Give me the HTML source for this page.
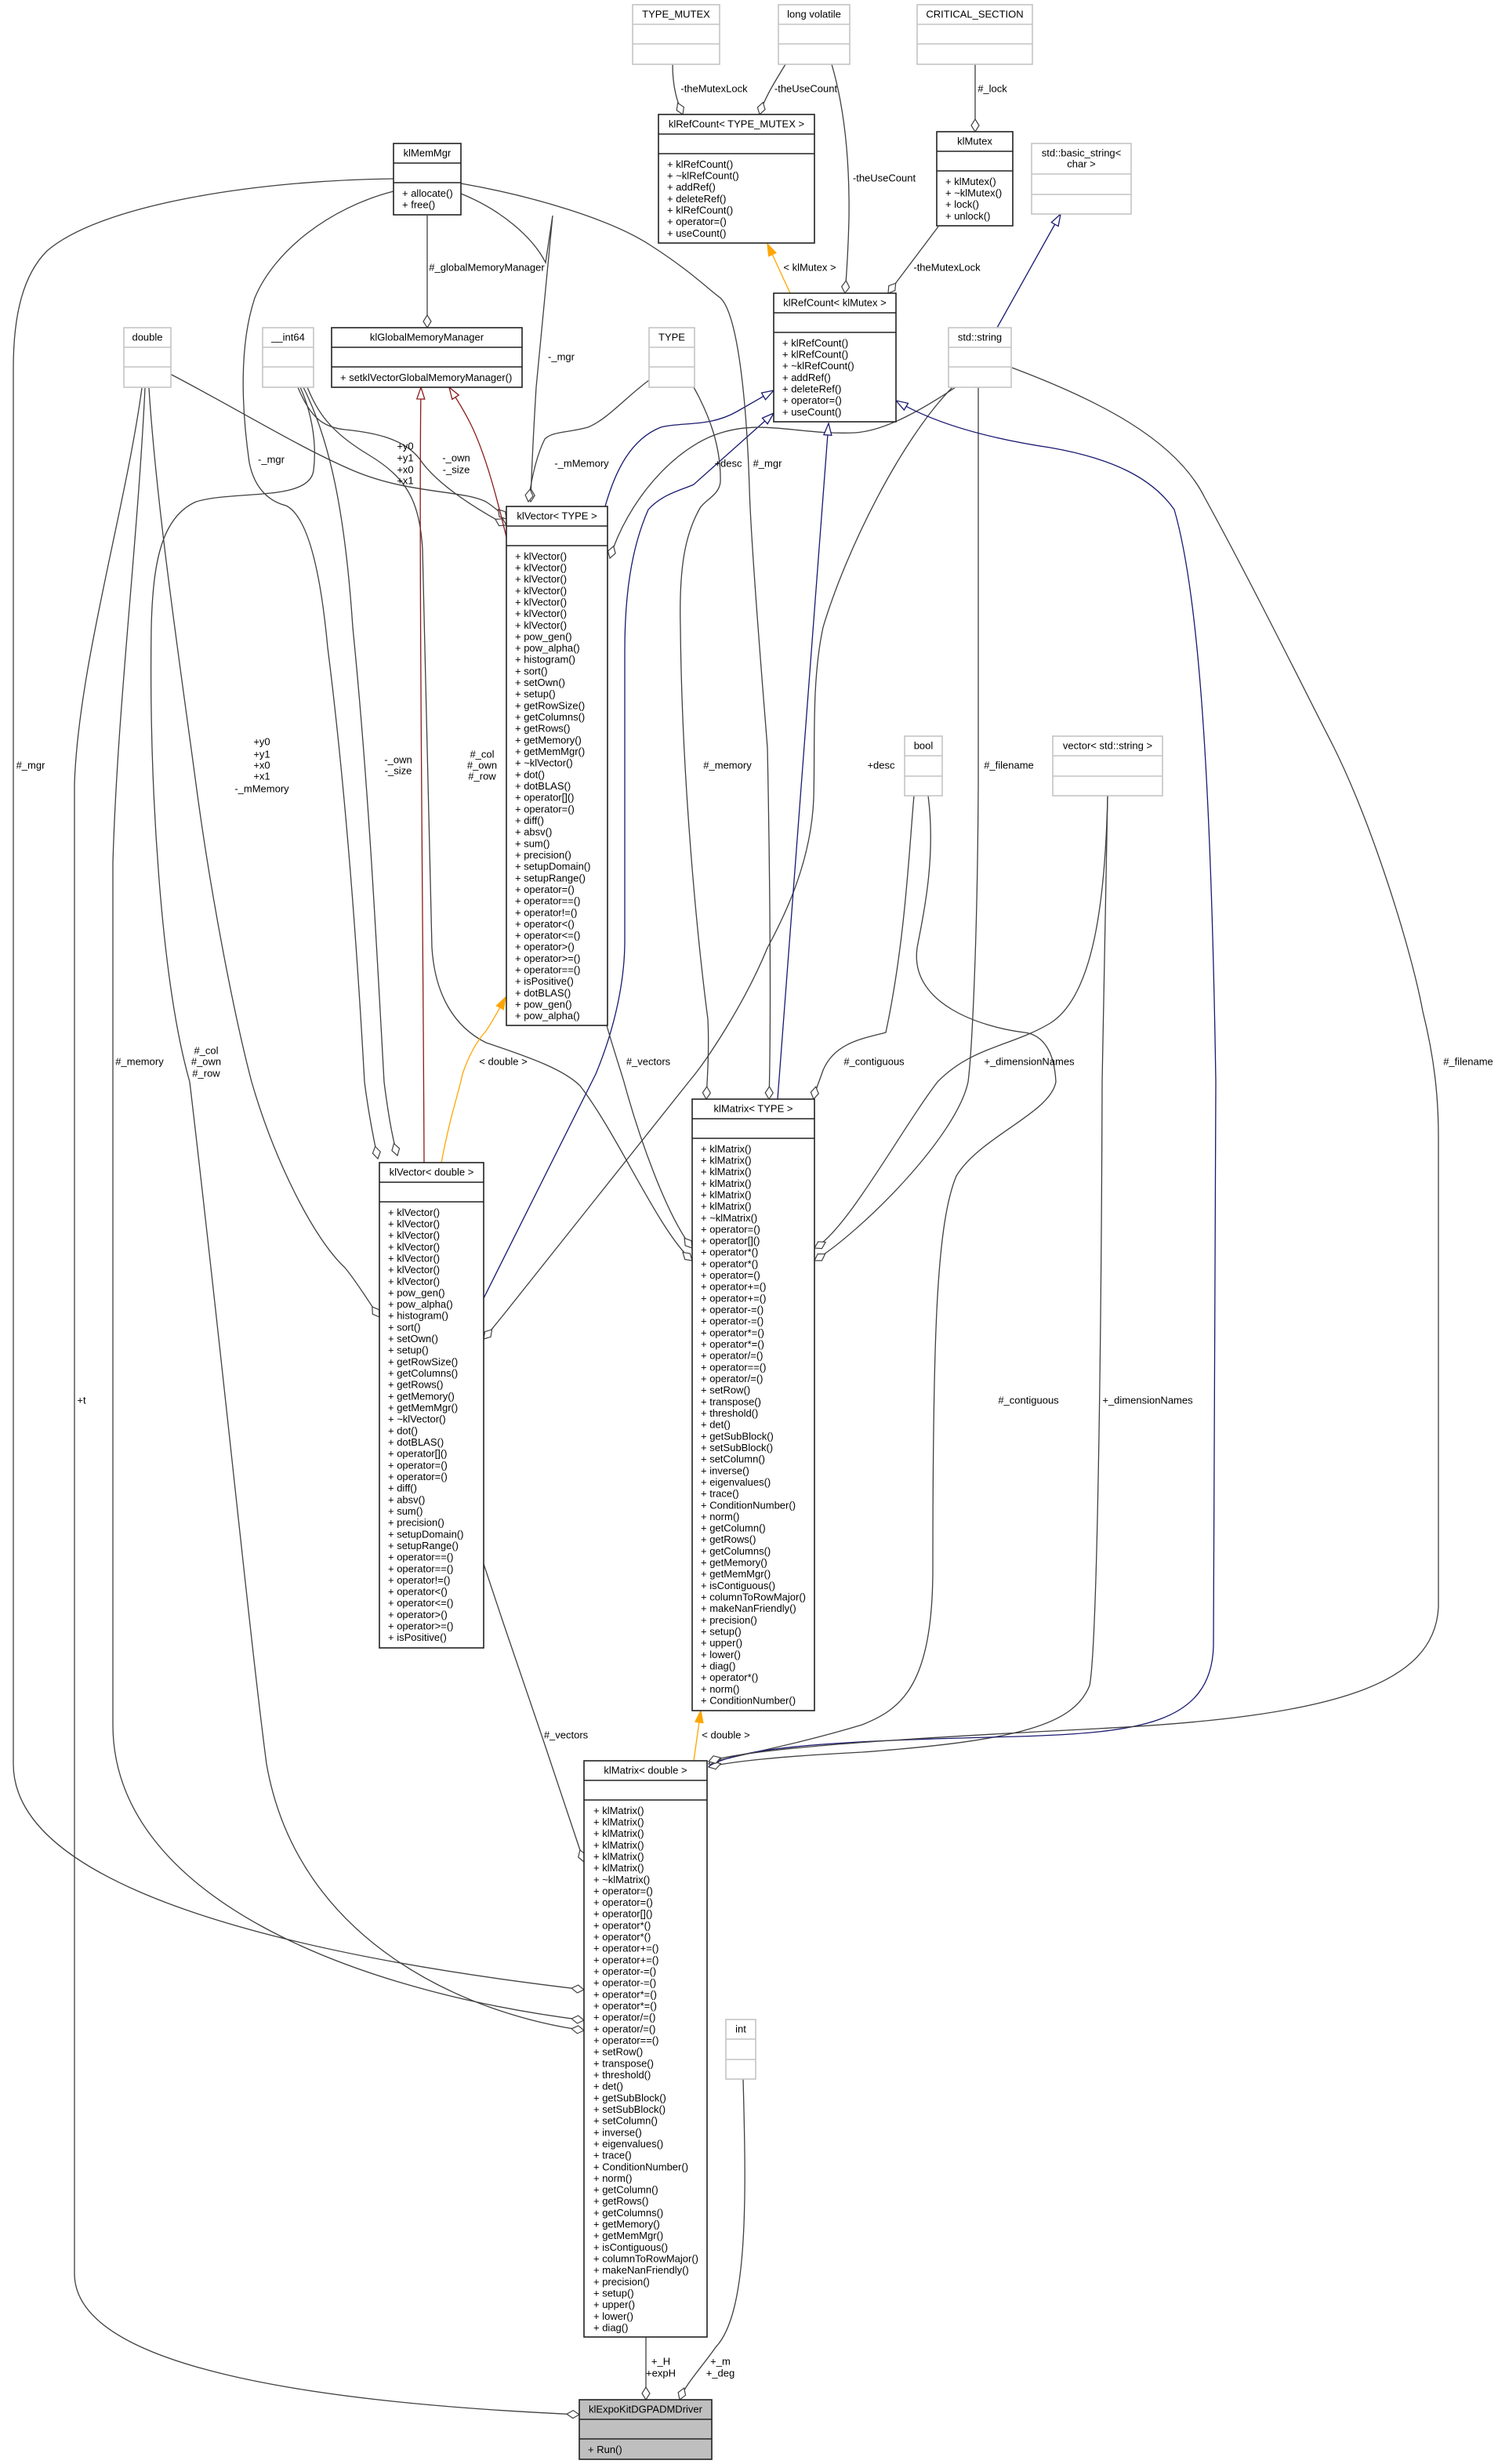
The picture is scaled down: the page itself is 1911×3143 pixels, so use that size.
<!DOCTYPE html>
<html><head><meta charset="utf-8"><title>klExpoKitDGPADMDriver</title>
<style>
html,body{margin:0;padding:0;background:#fff}
svg{display:block}
text{font-family:"Liberation Sans",Arial,sans-serif;font-size:13px;fill:#000}
.c{text-anchor:middle}
.b{fill:#fff;stroke:#222;stroke-width:1.6}
.bl{fill:none;stroke:#222;stroke-width:1.6}
.g{fill:#fff;stroke:#c4c4c4;stroke-width:1.6}
.gl{fill:none;stroke:#c4c4c4;stroke-width:1.6}
.e{fill:none;stroke:#404040;stroke-width:1.3}
.n{fill:none;stroke:#191970;stroke-width:1.3}
.o{fill:none;stroke:#ffa500;stroke-width:1.3}
.r{fill:none;stroke:#8b1a1a;stroke-width:1.3}
</style></head><body>
<svg xmlns="http://www.w3.org/2000/svg" width="1911" height="3143" viewBox="0 0 1911 3143">
<defs>
<marker id="dia" markerUnits="userSpaceOnUse" markerWidth="18" markerHeight="12" refX="16" refY="6" orient="auto" overflow="visible"><path d="M0,6 L8,1 L16,6 L8,11 Z" fill="#fff" stroke="#404040" stroke-width="1.2"/></marker>
<marker id="nav" markerUnits="userSpaceOnUse" markerWidth="16" markerHeight="12" refX="15" refY="6" orient="auto" overflow="visible"><path d="M0,1 L15,6 L0,11 Z" fill="#fff" stroke="#191970" stroke-width="1.3"/></marker>
<marker id="red" markerUnits="userSpaceOnUse" markerWidth="16" markerHeight="12" refX="15" refY="6" orient="auto" overflow="visible"><path d="M0,1 L15,6 L0,11 Z" fill="#fff" stroke="#8b1a1a" stroke-width="1.3"/></marker>
<marker id="org" markerUnits="userSpaceOnUse" markerWidth="16" markerHeight="12" refX="15" refY="6" orient="auto" overflow="visible"><path d="M0,1 L15,6 L0,11 Z" fill="#ffa500" stroke="#ffa500" stroke-width="1.3"/></marker>
</defs>
<rect width="1911" height="3143" fill="#fff"/>

<!-- ================= EDGES ================= -->
<g>
<path class="e" marker-end="url(#dia)" d="M858,82 C858,112 864,130 871,146"/>
<path class="e" marker-end="url(#dia)" d="M1002,82 C990,102 975,125 969,146"/>
<path class="e" marker-end="url(#dia)" d="M1061,82 C1078,140 1084,210 1083,280 C1082,320 1080,350 1078,374"/>
<path class="e" marker-end="url(#dia)" d="M1244,82 L1244,168"/>
<path class="e" marker-end="url(#dia)" d="M1197,289 L1133,374"/>
<path class="o" marker-end="url(#org)" d="M1008,374 L979,311"/>
<path class="n" marker-end="url(#nav)" d="M1272,418 L1353,273"/>
<path class="e" marker-end="url(#dia)" d="M545,275 L545,418"/>

<path class="e" marker-end="url(#dia)" d="M502,228 C330,230 130,260 60,320 C30,350 17,400 17,470 L17,2250 C17,2420 420,2500 745,2538"/>
<path class="e" marker-end="url(#dia)" d="M502,244 C420,265 350,320 325,380 C305,440 308,520 318,590 C325,625 345,640 365,645 C395,660 410,740 418,826 C440,1000 455,1200 465,1380 C470,1420 476,1450 482,1478"/>
<path class="e" marker-end="url(#dia)" d="M190,495 C200,650 230,850 250,1000 C270,1150 300,1300 321,1380 C350,1480 400,1580 440,1617 C455,1635 470,1660 484,1680"/>
<path class="e" marker-end="url(#dia)" d="M185,495 C175,700 150,900 144,1100 L144,2200 C144,2420 450,2540 745,2577"/>
<path class="e" marker-end="url(#dia)" d="M181,495 C160,650 100,850 95,1000 L95,2900 C95,3020 400,3065 739,3080"/>
<path class="e" marker-end="url(#dia)" d="M383,494 C395,520 405,560 400,600 C395,640 300,625 250,640 C205,660 195,720 193,800 C190,1000 205,1250 242,1380 C280,1700 320,2100 340,2250 C380,2480 600,2570 745,2590"/>
<path class="e" marker-end="url(#dia)" d="M217,477 C300,520 380,570 450,600 C520,630 590,625 620,640 C632,648 640,655 646,662"/>
<path class="e" marker-end="url(#dia)" d="M380,494 C395,530 410,545 440,548 C480,552 515,560 535,585 C555,615 600,645 646,670"/>
<path class="e" marker-end="url(#dia)" d="M387,494 C420,560 440,650 450,800 C470,1000 480,1200 490,1380 C495,1420 500,1450 507,1474"/>
<path class="e" marker-end="url(#dia)" d="M392,494 C405,525 420,550 470,580 C520,610 535,640 539,700 C545,900 548,1100 551,1209 C555,1270 580,1310 620,1330 C680,1350 720,1365 740,1385 C790,1450 840,1570 883,1608"/>
<path class="e" marker-end="url(#dia)" d="M588,247 C640,268 680,303 696,335 L705,275 L684,494 C680,560 678,605 677,640"/>
<path class="e" marker-end="url(#dia)" d="M828,485 C800,505 775,535 750,545 C725,552 705,550 695,560 C685,580 678,610 674,640"/>
<path class="n" marker-end="url(#nav)" d="M772,646 C785,600 805,560 843,545 C870,538 905,545 940,525 L987,498"/>
<path class="n" marker-end="url(#nav)" d="M616,1658 L760,1370 C785,1310 797,1250 797,1200 L797,830 C797,760 805,700 827,650 C845,630 870,625 885,618 L987,527"/>
<path class="e" marker-end="url(#dia)" d="M1219,494 C1180,520 1130,550 1090,552 C1020,555 975,535 920,552 C860,570 800,640 778,712"/>
<path class="e" marker-end="url(#dia)" d="M1215,494 C1150,560 1080,700 1050,800 C1035,870 1040,950 1038,1018 C1035,1100 1000,1170 979,1209 C950,1280 900,1355 881,1377 L640,1680 C630,1692 624,1700 617,1708"/>
<path class="e" marker-end="url(#dia)" d="M588,234 C680,250 780,280 830,313 C880,345 905,370 919,380 C940,400 952,500 956,622 C958,700 975,900 979,954 C982,1100 984,1300 981,1402"/>
<path class="e" marker-end="url(#dia)" d="M885,494 C905,530 920,570 919,615 C917,632 900,637 893,648 C875,680 866,720 868,800 C870,1000 890,1200 903,1300 C905,1340 902,1380 901,1402"/>
<path class="e" marker-end="url(#dia)" d="M774,1308 C780,1330 790,1360 796,1380 C815,1450 850,1550 883,1592"/>
<path class="n" marker-end="url(#nav)" d="M992,1402 L1057,540"/>
<path class="e" marker-end="url(#dia)" d="M1166,1015 C1160,1080 1155,1200 1130,1317 C1100,1325 1065,1330 1050,1365 C1045,1380 1040,1390 1038,1402"/>
<path class="e" marker-end="url(#dia)" d="M1413,1015 C1410,1150 1395,1270 1340,1305 C1290,1335 1240,1335 1196,1380 C1150,1440 1080,1570 1039,1592"/>
<path class="e" marker-end="url(#dia)" d="M1248,494 L1248,1000 C1247,1200 1240,1340 1235,1380 C1220,1450 1100,1570 1039,1608"/>
<path class="e" marker-end="url(#dia)" d="M1184,1015 C1195,1100 1175,1180 1170,1209 C1160,1280 1250,1310 1307,1317 C1330,1320 1345,1340 1347,1380 C1340,1420 1250,1450 1220,1500 C1195,1560 1190,1700 1190,2000 C1190,2150 1150,2180 1100,2200 C1000,2230 930,2240 904,2250"/>
<path class="e" marker-end="url(#dia)" d="M1413,1015 L1406,1380 C1405,1700 1400,2100 1390,2150 C1370,2200 1300,2220 1100,2235 C1000,2240 930,2247 904,2254"/>
<path class="n" marker-end="url(#nav)" d="M904,2253 C950,2225 1100,2220 1300,2215 C1450,2210 1545,2200 1548,2100 L1551,1380 C1545,1000 1530,760 1498,650 C1470,610 1420,585 1340,571 C1280,562 1200,545 1143,511"/>
<path class="e" marker-end="url(#dia)" d="M1291,469 C1400,510 1500,560 1537,635 C1600,750 1669,890 1700,950 C1750,1050 1800,1209 1815,1290 C1830,1350 1835,1400 1835,1450 L1835,2050 C1830,2150 1700,2190 1400,2205 C1100,2220 950,2232 904,2247"/>
<path class="e" marker-end="url(#dia)" d="M617,1995 L642,2070 C670,2150 720,2300 745,2375"/>
<path class="o" marker-end="url(#org)" d="M885,2246 L894,2182"/>
<path class="o" marker-end="url(#org)" d="M563,1483 C575,1420 585,1395 590,1370 C600,1340 612,1324 620,1315 C630,1300 638,1285 645,1272"/>
<path class="r" marker-end="url(#red)" d="M541,1483 C540,1200 534,700 537,494"/>
<path class="r" marker-end="url(#red)" d="M646,685 C635,640 620,580 600,540 C590,520 580,505 573,494"/>
<path class="e" marker-end="url(#dia)" d="M824,2981 L824,3061"/>
<path class="e" marker-end="url(#dia)" d="M948,2652 C952,2800 955,2950 913,2994 C895,3020 875,3040 867,3061"/>
</g>

<!-- ================= GRAY (external) BOXES ================= -->
<g>
<rect class="g" x="807" y="6" width="111" height="76"/><path class="gl" d="M807,31H918M807,56H918"/>
<text class="c" x="862.5" y="22.5">TYPE_MUTEX</text>
<rect class="g" x="993" y="6" width="91" height="76"/><path class="gl" d="M993,31H1084M993,56H1084"/>
<text class="c" x="1038.5" y="22.5">long volatile</text>
<rect class="g" x="1170" y="6" width="147" height="76"/><path class="gl" d="M1170,31H1317M1170,56H1317"/>
<text class="c" x="1243.5" y="22.5">CRITICAL_SECTION</text>
<rect class="g" x="1316" y="183" width="127" height="90"/><path class="gl" d="M1316,222H1443M1316,248H1443"/>
<text class="c" x="1379.5" y="199.5">std::basic_string&lt;</text>
<text class="c" x="1379.5" y="213.5">char &gt;</text>
<rect class="g" x="1210" y="418" width="80" height="76"/><path class="gl" d="M1210,443H1290M1210,468H1290"/>
<text class="c" x="1250" y="434.5">std::string</text>
<rect class="g" x="158" y="418" width="60" height="76"/><path class="gl" d="M158,443H218M158,468H218"/>
<text class="c" x="188" y="434.5">double</text>
<rect class="g" x="335" y="418" width="65" height="76"/><path class="gl" d="M335,443H400M335,468H400"/>
<text class="c" x="367.5" y="434.5">__int64</text>
<rect class="g" x="828" y="418" width="58" height="76"/><path class="gl" d="M828,443H886M828,468H886"/>
<text class="c" x="857" y="434.5">TYPE</text>
<rect class="g" x="1154" y="939" width="48" height="76"/><path class="gl" d="M1154,964H1202M1154,990H1202"/>
<text class="c" x="1178" y="955.5">bool</text>
<rect class="g" x="1343" y="939" width="140" height="76"/><path class="gl" d="M1343,964H1483M1343,990H1483"/>
<text class="c" x="1413" y="955.5">vector&lt; std::string &gt;</text>
<rect class="g" x="926" y="2576" width="38" height="76"/><path class="gl" d="M926,2601H964M926,2627H964"/>
<text class="c" x="945" y="2592.5">int</text>
</g>

<!-- ================= CLASS BOXES ================= -->
<g>
<!-- klRefCount< TYPE_MUTEX > -->
<rect class="b" x="840" y="146" width="199" height="164"/><path class="bl" d="M840,171H1039M840,196H1039"/>
<text class="c" x="939.5" y="162.5">klRefCount&lt; TYPE_MUTEX &gt;</text>
<text x="851" y="213.8"><tspan x="851" dy="0">+ klRefCount()</tspan><tspan x="851" dy="14.66">+ ~klRefCount()</tspan><tspan x="851" dy="14.66">+ addRef()</tspan><tspan x="851" dy="14.66">+ deleteRef()</tspan><tspan x="851" dy="14.66">+ klRefCount()</tspan><tspan x="851" dy="14.66">+ operator=()</tspan><tspan x="851" dy="14.66">+ useCount()</tspan></text>

<!-- klMutex -->
<rect class="b" x="1195" y="168" width="97" height="120"/><path class="bl" d="M1195,193H1292M1195,218H1292"/>
<text class="c" x="1243.5" y="184.5">klMutex</text>
<text x="1206" y="235.8"><tspan x="1206" dy="0">+ klMutex()</tspan><tspan x="1206" dy="14.66">+ ~klMutex()</tspan><tspan x="1206" dy="14.66">+ lock()</tspan><tspan x="1206" dy="14.66">+ unlock()</tspan></text>

<!-- klRefCount< klMutex > -->
<rect class="b" x="987" y="374" width="156" height="164"/><path class="bl" d="M987,399H1143M987,424H1143"/>
<text class="c" x="1065" y="390.5">klRefCount&lt; klMutex &gt;</text>
<text x="998" y="441.8"><tspan x="998" dy="0">+ klRefCount()</tspan><tspan x="998" dy="14.66">+ klRefCount()</tspan><tspan x="998" dy="14.66">+ ~klRefCount()</tspan><tspan x="998" dy="14.66">+ addRef()</tspan><tspan x="998" dy="14.66">+ deleteRef()</tspan><tspan x="998" dy="14.66">+ operator=()</tspan><tspan x="998" dy="14.66">+ useCount()</tspan></text>

<!-- klMemMgr -->
<rect class="b" x="502" y="183" width="86" height="91"/><path class="bl" d="M502,208H588M502,233H588"/>
<text class="c" x="545" y="199.5">klMemMgr</text>
<text x="513" y="250.8"><tspan x="513" dy="0">+ allocate()</tspan><tspan x="513" dy="14.66">+ free()</tspan></text>

<!-- klGlobalMemoryManager -->
<rect class="b" x="423" y="418" width="243" height="76"/><path class="bl" d="M423,443H666M423,468H666"/>
<text class="c" x="544.5" y="434.5">klGlobalMemoryManager</text>
<text x="434" y="485.8">+ setklVectorGlobalMemoryManager()</text>

<!-- klVector< TYPE > -->
<rect class="b" x="646" y="646" width="129" height="662"/><path class="bl" d="M646,671H775M646,696H775"/>
<text class="c" x="710.5" y="662.5">klVector&lt; TYPE &gt;</text>
<text x="657" y="713.8"><tspan x="657" dy="0">+ klVector()</tspan><tspan x="657" dy="14.66">+ klVector()</tspan><tspan x="657" dy="14.66">+ klVector()</tspan><tspan x="657" dy="14.66">+ klVector()</tspan><tspan x="657" dy="14.66">+ klVector()</tspan><tspan x="657" dy="14.66">+ klVector()</tspan><tspan x="657" dy="14.66">+ klVector()</tspan><tspan x="657" dy="14.66">+ pow_gen()</tspan><tspan x="657" dy="14.66">+ pow_alpha()</tspan><tspan x="657" dy="14.66">+ histogram()</tspan><tspan x="657" dy="14.66">+ sort()</tspan><tspan x="657" dy="14.66">+ setOwn()</tspan><tspan x="657" dy="14.66">+ setup()</tspan><tspan x="657" dy="14.66">+ getRowSize()</tspan><tspan x="657" dy="14.66">+ getColumns()</tspan><tspan x="657" dy="14.66">+ getRows()</tspan><tspan x="657" dy="14.66">+ getMemory()</tspan><tspan x="657" dy="14.66">+ getMemMgr()</tspan><tspan x="657" dy="14.66">+ ~klVector()</tspan><tspan x="657" dy="14.66">+ dot()</tspan><tspan x="657" dy="14.66">+ dotBLAS()</tspan><tspan x="657" dy="14.66">+ operator[]()</tspan><tspan x="657" dy="14.66">+ operator=()</tspan><tspan x="657" dy="14.66">+ diff()</tspan><tspan x="657" dy="14.66">+ absv()</tspan><tspan x="657" dy="14.66">+ sum()</tspan><tspan x="657" dy="14.66">+ precision()</tspan><tspan x="657" dy="14.66">+ setupDomain()</tspan><tspan x="657" dy="14.66">+ setupRange()</tspan><tspan x="657" dy="14.66">+ operator=()</tspan><tspan x="657" dy="14.66">+ operator==()</tspan><tspan x="657" dy="14.66">+ operator!=()</tspan><tspan x="657" dy="14.66">+ operator&lt;()</tspan><tspan x="657" dy="14.66">+ operator&lt;=()</tspan><tspan x="657" dy="14.66">+ operator&gt;()</tspan><tspan x="657" dy="14.66">+ operator&gt;=()</tspan><tspan x="657" dy="14.66">+ operator==()</tspan><tspan x="657" dy="14.66">+ isPositive()</tspan><tspan x="657" dy="14.66">+ dotBLAS()</tspan><tspan x="657" dy="14.66">+ pow_gen()</tspan><tspan x="657" dy="14.66">+ pow_alpha()</tspan></text>

<!-- klVector< double > -->
<rect class="b" x="484" y="1483" width="133" height="619"/><path class="bl" d="M484,1508H617M484,1533H617"/>
<text class="c" x="550.5" y="1499.5">klVector&lt; double &gt;</text>
<text x="495" y="1550.8"><tspan x="495" dy="0">+ klVector()</tspan><tspan x="495" dy="14.66">+ klVector()</tspan><tspan x="495" dy="14.66">+ klVector()</tspan><tspan x="495" dy="14.66">+ klVector()</tspan><tspan x="495" dy="14.66">+ klVector()</tspan><tspan x="495" dy="14.66">+ klVector()</tspan><tspan x="495" dy="14.66">+ klVector()</tspan><tspan x="495" dy="14.66">+ pow_gen()</tspan><tspan x="495" dy="14.66">+ pow_alpha()</tspan><tspan x="495" dy="14.66">+ histogram()</tspan><tspan x="495" dy="14.66">+ sort()</tspan><tspan x="495" dy="14.66">+ setOwn()</tspan><tspan x="495" dy="14.66">+ setup()</tspan><tspan x="495" dy="14.66">+ getRowSize()</tspan><tspan x="495" dy="14.66">+ getColumns()</tspan><tspan x="495" dy="14.66">+ getRows()</tspan><tspan x="495" dy="14.66">+ getMemory()</tspan><tspan x="495" dy="14.66">+ getMemMgr()</tspan><tspan x="495" dy="14.66">+ ~klVector()</tspan><tspan x="495" dy="14.66">+ dot()</tspan><tspan x="495" dy="14.66">+ dotBLAS()</tspan><tspan x="495" dy="14.66">+ operator[]()</tspan><tspan x="495" dy="14.66">+ operator=()</tspan><tspan x="495" dy="14.66">+ operator=()</tspan><tspan x="495" dy="14.66">+ diff()</tspan><tspan x="495" dy="14.66">+ absv()</tspan><tspan x="495" dy="14.66">+ sum()</tspan><tspan x="495" dy="14.66">+ precision()</tspan><tspan x="495" dy="14.66">+ setupDomain()</tspan><tspan x="495" dy="14.66">+ setupRange()</tspan><tspan x="495" dy="14.66">+ operator==()</tspan><tspan x="495" dy="14.66">+ operator==()</tspan><tspan x="495" dy="14.66">+ operator!=()</tspan><tspan x="495" dy="14.66">+ operator&lt;()</tspan><tspan x="495" dy="14.66">+ operator&lt;=()</tspan><tspan x="495" dy="14.66">+ operator&gt;()</tspan><tspan x="495" dy="14.66">+ operator&gt;=()</tspan><tspan x="495" dy="14.66">+ isPositive()</tspan></text>

<!-- klMatrix< TYPE > -->
<rect class="b" x="883" y="1402" width="156" height="780"/><path class="bl" d="M883,1427H1039M883,1452H1039"/>
<text class="c" x="961" y="1418.5">klMatrix&lt; TYPE &gt;</text>
<text x="894" y="1469.8"><tspan x="894" dy="0">+ klMatrix()</tspan><tspan x="894" dy="14.66">+ klMatrix()</tspan><tspan x="894" dy="14.66">+ klMatrix()</tspan><tspan x="894" dy="14.66">+ klMatrix()</tspan><tspan x="894" dy="14.66">+ klMatrix()</tspan><tspan x="894" dy="14.66">+ klMatrix()</tspan><tspan x="894" dy="14.66">+ ~klMatrix()</tspan><tspan x="894" dy="14.66">+ operator=()</tspan><tspan x="894" dy="14.66">+ operator[]()</tspan><tspan x="894" dy="14.66">+ operator*()</tspan><tspan x="894" dy="14.66">+ operator*()</tspan><tspan x="894" dy="14.66">+ operator=()</tspan><tspan x="894" dy="14.66">+ operator+=()</tspan><tspan x="894" dy="14.66">+ operator+=()</tspan><tspan x="894" dy="14.66">+ operator-=()</tspan><tspan x="894" dy="14.66">+ operator-=()</tspan><tspan x="894" dy="14.66">+ operator*=()</tspan><tspan x="894" dy="14.66">+ operator*=()</tspan><tspan x="894" dy="14.66">+ operator/=()</tspan><tspan x="894" dy="14.66">+ operator==()</tspan><tspan x="894" dy="14.66">+ operator/=()</tspan><tspan x="894" dy="14.66">+ setRow()</tspan><tspan x="894" dy="14.66">+ transpose()</tspan><tspan x="894" dy="14.66">+ threshold()</tspan><tspan x="894" dy="14.66">+ det()</tspan><tspan x="894" dy="14.66">+ getSubBlock()</tspan><tspan x="894" dy="14.66">+ setSubBlock()</tspan><tspan x="894" dy="14.66">+ setColumn()</tspan><tspan x="894" dy="14.66">+ inverse()</tspan><tspan x="894" dy="14.66">+ eigenvalues()</tspan><tspan x="894" dy="14.66">+ trace()</tspan><tspan x="894" dy="14.66">+ ConditionNumber()</tspan><tspan x="894" dy="14.66">+ norm()</tspan><tspan x="894" dy="14.66">+ getColumn()</tspan><tspan x="894" dy="14.66">+ getRows()</tspan><tspan x="894" dy="14.66">+ getColumns()</tspan><tspan x="894" dy="14.66">+ getMemory()</tspan><tspan x="894" dy="14.66">+ getMemMgr()</tspan><tspan x="894" dy="14.66">+ isContiguous()</tspan><tspan x="894" dy="14.66">+ columnToRowMajor()</tspan><tspan x="894" dy="14.66">+ makeNanFriendly()</tspan><tspan x="894" dy="14.66">+ precision()</tspan><tspan x="894" dy="14.66">+ setup()</tspan><tspan x="894" dy="14.66">+ upper()</tspan><tspan x="894" dy="14.66">+ lower()</tspan><tspan x="894" dy="14.66">+ diag()</tspan><tspan x="894" dy="14.66">+ operator*()</tspan><tspan x="894" dy="14.66">+ norm()</tspan><tspan x="894" dy="14.66">+ ConditionNumber()</tspan></text>

<!-- klMatrix< double > -->
<rect class="b" x="745" y="2246" width="157" height="735"/><path class="bl" d="M745,2271H902M745,2296H902"/>
<text class="c" x="823.5" y="2262.5">klMatrix&lt; double &gt;</text>
<text x="757" y="2313.8"><tspan x="757" dy="0">+ klMatrix()</tspan><tspan x="757" dy="14.66">+ klMatrix()</tspan><tspan x="757" dy="14.66">+ klMatrix()</tspan><tspan x="757" dy="14.66">+ klMatrix()</tspan><tspan x="757" dy="14.66">+ klMatrix()</tspan><tspan x="757" dy="14.66">+ klMatrix()</tspan><tspan x="757" dy="14.66">+ ~klMatrix()</tspan><tspan x="757" dy="14.66">+ operator=()</tspan><tspan x="757" dy="14.66">+ operator=()</tspan><tspan x="757" dy="14.66">+ operator[]()</tspan><tspan x="757" dy="14.66">+ operator*()</tspan><tspan x="757" dy="14.66">+ operator*()</tspan><tspan x="757" dy="14.66">+ operator+=()</tspan><tspan x="757" dy="14.66">+ operator+=()</tspan><tspan x="757" dy="14.66">+ operator-=()</tspan><tspan x="757" dy="14.66">+ operator-=()</tspan><tspan x="757" dy="14.66">+ operator*=()</tspan><tspan x="757" dy="14.66">+ operator*=()</tspan><tspan x="757" dy="14.66">+ operator/=()</tspan><tspan x="757" dy="14.66">+ operator/=()</tspan><tspan x="757" dy="14.66">+ operator==()</tspan><tspan x="757" dy="14.66">+ setRow()</tspan><tspan x="757" dy="14.66">+ transpose()</tspan><tspan x="757" dy="14.66">+ threshold()</tspan><tspan x="757" dy="14.66">+ det()</tspan><tspan x="757" dy="14.66">+ getSubBlock()</tspan><tspan x="757" dy="14.66">+ setSubBlock()</tspan><tspan x="757" dy="14.66">+ setColumn()</tspan><tspan x="757" dy="14.66">+ inverse()</tspan><tspan x="757" dy="14.66">+ eigenvalues()</tspan><tspan x="757" dy="14.66">+ trace()</tspan><tspan x="757" dy="14.66">+ ConditionNumber()</tspan><tspan x="757" dy="14.66">+ norm()</tspan><tspan x="757" dy="14.66">+ getColumn()</tspan><tspan x="757" dy="14.66">+ getRows()</tspan><tspan x="757" dy="14.66">+ getColumns()</tspan><tspan x="757" dy="14.66">+ getMemory()</tspan><tspan x="757" dy="14.66">+ getMemMgr()</tspan><tspan x="757" dy="14.66">+ isContiguous()</tspan><tspan x="757" dy="14.66">+ columnToRowMajor()</tspan><tspan x="757" dy="14.66">+ makeNanFriendly()</tspan><tspan x="757" dy="14.66">+ precision()</tspan><tspan x="757" dy="14.66">+ setup()</tspan><tspan x="757" dy="14.66">+ upper()</tspan><tspan x="757" dy="14.66">+ lower()</tspan><tspan x="757" dy="14.66">+ diag()</tspan></text>

<!-- klExpoKitDGPADMDriver -->
<rect x="739" y="3061" width="169" height="76" fill="#bfbfbf" stroke="#222" stroke-width="1.6"/><path class="bl" d="M739,3086H908M739,3111H908"/>
<text class="c" x="823.5" y="3077.5">klExpoKitDGPADMDriver</text>
<text x="750" y="3128.8">+ Run()</text>
</g>

<!-- ================= EDGE LABELS ================= -->
<g>
<text class="c" x="911" y="117.5">-theMutexLock</text>
<text class="c" x="1028" y="117.5">-theUseCount</text>
<text class="c" x="1266" y="117.5">#_lock</text>
<text class="c" x="1128" y="231.5">-theUseCount</text>
<text class="c" x="1033" y="345.5">&lt; klMutex &gt;</text>
<text class="c" x="1208" y="345.5">-theMutexLock</text>
<text class="c" x="621" y="345.5">#_globalMemoryManager</text>
<text class="c" x="716" y="459.5">-_mgr</text>
<text class="c" x="346" y="590.5">-_mgr</text>
<text class="c" x="517" y="573.5">+y0</text>
<text class="c" x="517" y="588.5">+y1</text>
<text class="c" x="517" y="603.5">+x0</text>
<text class="c" x="517" y="617.5">+x1</text>
<text class="c" x="582" y="588.5">-_own</text>
<text class="c" x="582" y="603.5">-_size</text>
<text class="c" x="742" y="595.5">-_mMemory</text>
<text class="c" x="929" y="595.5">+desc</text>
<text class="c" x="979" y="595.5">#_mgr</text>
<text class="c" x="39" y="980.5">#_mgr</text>
<text class="c" x="334" y="950.5">+y0</text>
<text class="c" x="334" y="966.5">+y1</text>
<text class="c" x="334" y="980.5">+x0</text>
<text class="c" x="334" y="994.5">+x1</text>
<text class="c" x="334" y="1010.5">-_mMemory</text>
<text class="c" x="508" y="973.5">-_own</text>
<text class="c" x="508" y="987.5">-_size</text>
<text class="c" x="615" y="966.5">#_col</text>
<text class="c" x="615" y="980.5">#_own</text>
<text class="c" x="615" y="994.5">#_row</text>
<text class="c" x="928" y="980.5">#_memory</text>
<text class="c" x="1124" y="980.5">+desc</text>
<text class="c" x="1287" y="980.5">#_filename</text>
<text class="c" x="178" y="1358.5">#_memory</text>
<text class="c" x="263" y="1344.5">#_col</text>
<text class="c" x="263" y="1358.5">#_own</text>
<text class="c" x="263" y="1373.5">#_row</text>
<text class="c" x="642" y="1358.5">&lt; double &gt;</text>
<text class="c" x="827" y="1358.5">#_vectors</text>
<text class="c" x="1115" y="1358.5">#_contiguous</text>
<text class="c" x="1313" y="1358.5">+_dimensionNames</text>
<text class="c" x="1873" y="1358.5">#_filename</text>
<text class="c" x="104" y="1790.5">+t</text>
<text class="c" x="1312" y="1790.5">#_contiguous</text>
<text class="c" x="1464" y="1790.5">+_dimensionNames</text>
<text class="c" x="722" y="2217.5">#_vectors</text>
<text class="c" x="926" y="2217.5">&lt; double &gt;</text>
<text class="c" x="843" y="3016.5">+_H</text>
<text class="c" x="843" y="3031.5">+expH</text>
<text class="c" x="919" y="3016.5">+_m</text>
<text class="c" x="919" y="3031.5">+_deg</text>
</g>
</svg>
</body></html>
